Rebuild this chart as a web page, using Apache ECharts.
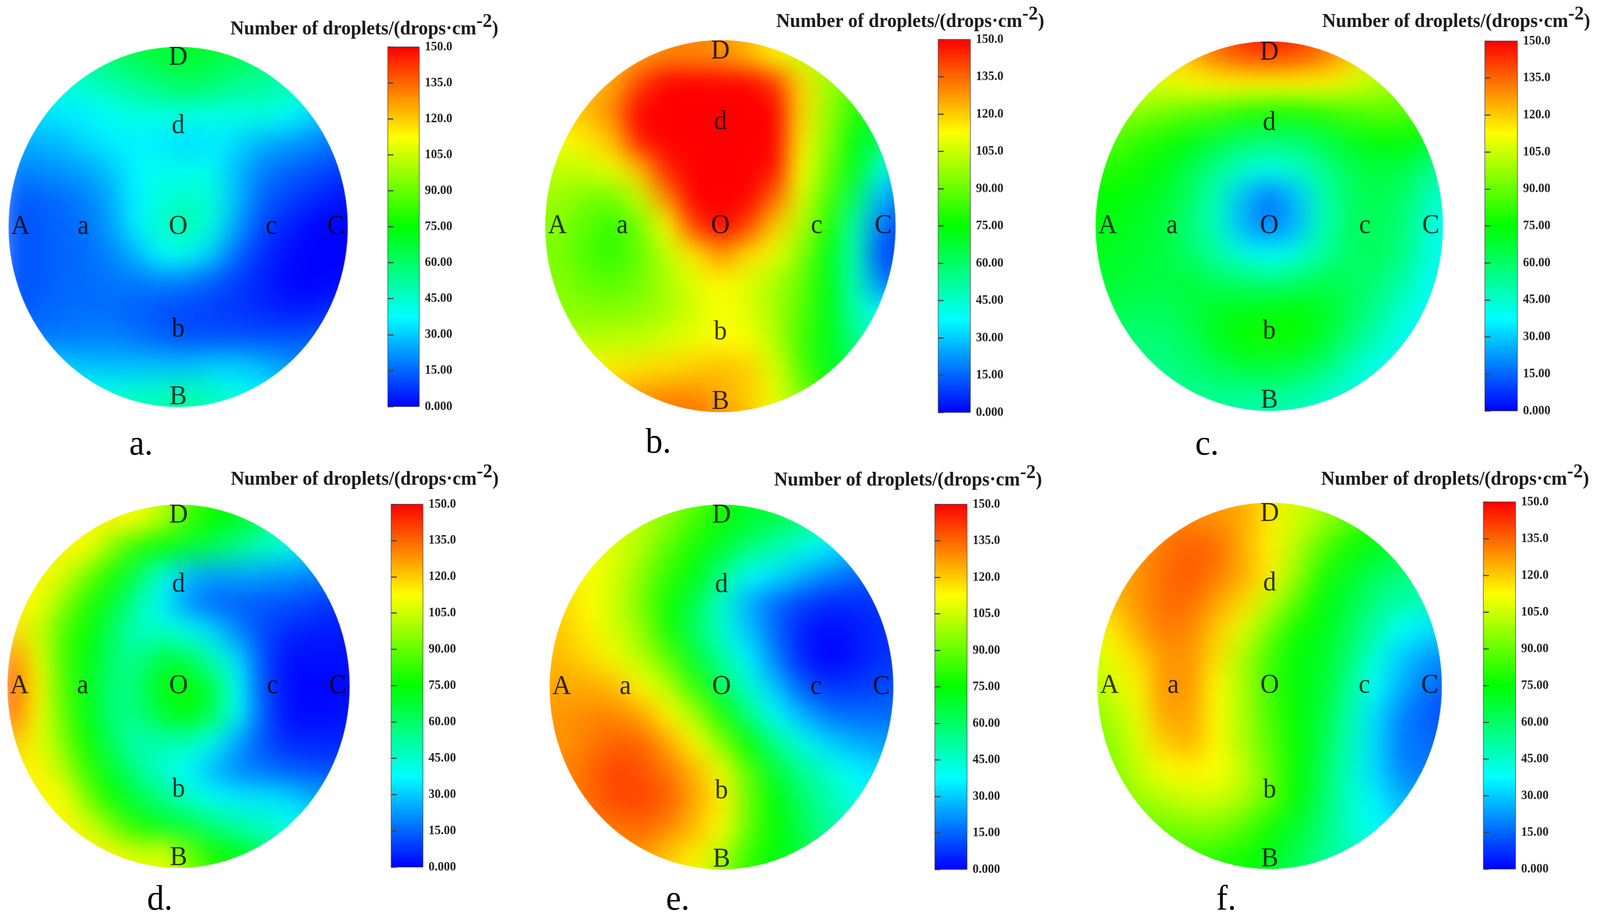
<!DOCTYPE html>
<html>
<head>
<meta charset="utf-8">
<style>
  html, body { margin: 0; padding: 0; background: #fff; overflow: hidden; }
  #stage { position: absolute; left: 0; top: 0; width: 4320px; height: 2335px; transform-origin: 0 0; }
  #field, #overlay { position: absolute; left: 0; top: 0; width: 4320px; height: 2335px; }
</style>
<script src="https://cdn.jsdelivr.net/npm/echarts@6/dist/echarts.min.js"></script>
</head>
<body>
<div id="stage">
  <div id="field"></div>
  <div id="overlay"></div>
</div>
<script>
const fieldA = [
  [50,50,52,58,62,66,68,70,68,64,58,52,46,42,38],
  [44,44,46,52,58,62,66,68,66,62,58,50,44,40,36],
  [40,40,42,44,48,52,56,60,56,52,52,48,43,38,30],
  [32,33,34,36,39,41,41,40,40,41,41,38,32,24,20],
  [25,26,28,32,35,36,35,32,35,32,26,23,20,17,15],
  [19,20,22,24,29,37,40,40,40,28,19,15,12,9,8],
  [13,14,16,19,26,36,43,46,43,28,15,10,6,3,2],
  [12,13,15,17,24,36,46,50,42,24,11,5,1,0,0],
  [12,13,15,16,20,27,38,40,30,16,7,2,0,0,0],
  [12,13,15,16,17,18,19,18,14,9,5,1,0,1,1],
  [13,14,16,16,16,14,12,10,9,8,6,4,4,6,6],
  [18,18,18,19,19,17,14,12,12,12,12,12,13,15,16],
  [30,30,30,28,28,28,28,28,30,30,27,23,20,20,20],
  [44,44,44,40,42,44,46,48,45,40,36,30,26,26,26],
  [50,50,50,48,50,52,54,55,52,48,42,36,30,30,30]
];
const fieldB = [
  [125,125,125,125,128,130,132,130,125,118,110,100,92,85,80],
  [122,122,123,124,126,130,130,128,122,113,105,98,90,85,80],
  [120,120,122,125,140,150,150,150,150,142,118,100,88,82,75],
  [118,120,122,130,150,150,150,150,150,150,118,98,82,70,60],
  [112,112,115,122,146,150,150,150,150,150,115,96,72,62,50],
  [103,103,105,110,122,145,150,150,150,148,112,92,72,42,30],
  [98,98,93,92,105,130,150,150,150,135,108,86,60,28,15],
  [95,95,88,82,92,112,140,150,140,120,102,80,50,18,8],
  [93,93,86,82,90,103,115,128,118,110,95,72,48,12,8],
  [95,95,90,88,92,100,108,113,108,100,90,72,48,20,14],
  [96,96,95,95,96,100,106,112,108,100,88,72,50,38,30],
  [102,102,102,103,104,107,110,112,112,102,85,72,55,45,40],
  [112,112,112,115,117,118,120,122,120,108,88,72,62,55,50],
  [125,125,125,125,128,130,130,125,120,110,95,80,70,62,55],
  [130,130,130,130,132,135,135,130,122,112,100,85,75,65,60]
];
const fieldC = [
  [120,120,120,120,126,136,145,150,145,136,126,112,105,100,95],
  [115,115,115,118,122,132,138,140,138,132,122,110,102,98,95],
  [108,108,106,108,111,113,113,113,113,113,108,102,96,92,88],
  [96,96,96,92,88,85,80,78,78,80,85,88,88,85,82],
  [88,88,82,78,72,66,60,58,58,64,70,74,74,70,66],
  [80,80,77,72,64,54,45,40,45,54,62,66,64,55,48],
  [75,75,72,68,60,48,28,17,28,48,60,64,60,48,42],
  [72,72,70,66,58,46,27,18,27,48,60,62,58,44,38],
  [70,70,68,66,60,52,42,38,42,52,60,62,56,42,36],
  [68,68,66,65,66,62,60,58,60,64,62,58,50,40,36],
  [64,64,62,62,65,70,72,73,74,70,62,54,44,38,34],
  [58,58,58,58,62,70,76,78,76,68,58,48,40,36,34],
  [56,56,56,55,58,62,66,66,64,58,48,40,38,36,34],
  [54,54,54,54,54,54,52,52,50,46,42,40,38,36,34],
  [54,54,54,54,54,52,50,50,48,44,40,38,36,34,34]
];
const fieldD = [
  [114,114,114,114,114,114,104,90,78,72,62,54,46,40,36],
  [114,114,114,114,114,112,100,85,75,70,60,50,44,38,32],
  [114,114,114,112,95,80,74,68,62,54,47,42,34,28,24],
  [114,114,108,92,78,62,42,28,24,25,24,22,20,16,14],
  [114,112,96,80,68,50,36,22,15,14,13,12,10,8,7],
  [118,105,88,76,60,46,45,40,32,20,11,6,4,4,3],
  [130,110,86,73,58,54,66,62,47,33,12,2,2,2,2],
  [136,114,88,72,56,58,72,76,64,38,12,2,0,1,1],
  [134,112,90,72,56,56,68,74,62,38,14,2,1,2,2],
  [122,110,95,76,60,48,50,48,40,24,12,6,5,5,5],
  [114,114,102,82,68,54,44,38,27,20,17,14,12,12,12],
  [114,114,112,92,76,64,55,46,38,35,34,32,26,24,24],
  [114,114,114,108,92,78,70,66,58,50,46,40,36,34,34],
  [114,114,114,114,114,105,108,92,78,72,60,50,44,40,38],
  [114,114,114,114,114,112,108,98,84,74,64,54,46,42,40]
];
const fieldE = [
  [100,100,102,102,102,100,92,80,70,66,60,52,44,38,34],
  [106,106,106,106,102,95,85,76,68,65,58,48,40,36,32],
  [112,112,112,108,100,88,78,68,58,50,42,36,30,26,22],
  [116,116,112,106,95,82,72,55,38,34,27,20,16,12,10],
  [120,118,112,105,92,77,63,45,26,16,10,6,6,8,8],
  [122,120,114,106,96,78,60,44,30,16,5,1,3,6,7],
  [124,122,118,110,102,88,68,52,36,20,6,0,3,7,8],
  [126,125,125,122,112,102,82,62,44,30,14,8,8,10,12],
  [128,128,130,130,125,113,100,78,56,38,28,18,16,16,16],
  [128,128,132,136,135,125,112,95,75,55,41,32,26,24,22],
  [130,130,135,140,138,132,123,110,88,68,54,45,37,32,30],
  [130,130,134,140,140,136,125,115,92,74,60,50,42,38,36],
  [130,130,132,133,135,130,122,112,90,76,64,52,46,42,40],
  [128,128,128,128,128,120,115,102,84,74,66,56,50,46,44],
  [125,125,125,125,122,118,110,96,80,72,66,58,52,48,46]
];
const fieldF = [
  [128,128,128,128,130,128,124,116,106,98,88,80,72,68,64],
  [128,128,130,130,130,128,125,115,106,100,90,82,74,68,62],
  [124,124,128,132,136,134,124,114,102,88,78,72,66,62,58],
  [122,124,128,134,137,132,125,115,98,80,70,62,58,54,50],
  [116,122,128,134,134,126,118,104,88,74,66,56,50,48,46],
  [108,115,125,132,130,120,108,92,78,72,62,50,38,34,30],
  [104,110,118,128,128,117,100,85,74,70,58,42,30,23,20],
  [100,106,114,128,128,112,100,84,74,68,54,38,26,17,14],
  [96,100,110,126,126,112,100,86,75,66,50,33,20,14,10],
  [92,96,108,120,124,113,100,88,76,64,48,32,18,16,12],
  [92,94,104,112,114,112,104,90,76,62,46,32,20,18,16],
  [90,92,98,102,106,106,100,90,75,60,46,36,26,24,22],
  [86,88,90,92,94,94,88,78,68,58,46,38,32,30,28],
  [82,82,84,84,84,82,78,72,64,55,48,42,38,36,34],
  [80,80,80,80,80,78,74,68,60,52,46,42,38,36,34]
];
const fields = [fieldA, fieldB, fieldC, fieldD, fieldE, fieldF];

const captions = ['a.', 'b.', 'c.', 'd.', 'e.', 'f.'];
const pointNames = ['A', 'a', 'O', 'c', 'C', 'D', 'd', 'b', 'B'];
const pointX = [-0.93, -0.56, 0, 0.55, 0.93, 0, 0, 0, 0];
const pointY = [0, 0, 0, 0, 0, 0.94, 0.56, -0.57, -0.945];
const tickLabels = ['0.000', '15.00', '30.00', '45.00', '60.00', '75.00', '90.00', '105.0', '120.0', '135.0', '150.0'];
const rainbow = ['#0000ff', '#00ffff', '#00ff00', '#ffff00', '#ff0000'];

const SERIF = '"Liberation Serif", serif';
const FIELD_MARGIN = 1.15;  // the value grid runs a little past the disc so the blur has colour at the rim

// page layout of every panel, in pixels of the 4320 wide picture
const layout = [
  { cx: 481, cy: 581, rx: 458, ry: 461, bar: [1047, 120, 85, 921], title: [622, 68], cap: [349, 1146] },
  { cx: 1945, cy: 579, rx: 473, ry: 476, bar: [2533, 101, 87, 955], title: [2096, 49], cap: [1743, 1141] },
  { cx: 3427, cy: 579, rx: 469, ry: 473, bar: [4009, 105, 88, 947], title: [3570, 49], cap: [3227, 1146] },
  { cx: 482, cy: 1757, rx: 462, ry: 465, bar: [1056, 1291, 86, 929], title: [623, 1221], cap: [397, 2311] },
  { cx: 1948, cy: 1759, rx: 464, ry: 467, bar: [2524, 1291, 87, 935], title: [2090, 1223], cap: [1798, 2311] },
  { cx: 3428, cy: 1756, rx: 465, ry: 469, bar: [4005, 1285, 87, 940], title: [3567, 1221], cap: [3284, 2311] }
];

// 브라우저 창이 4320보다 좁게 열리므로 그림 전체를 창 너비에 맞춘다
document.getElementById('stage').style.transform = `scaleX(${window.innerWidth / 4320})`;

// 색 면: 값 격자를 그린 뒤 CSS로 흐리게 하고 원 모양으로 자른다
function renderFields() {
  const el = document.getElementById('field');
  el.style.filter = 'blur(32px)';
  el.style.clipPath = "path('" + layout.map(p =>
    `M${p.cx - p.rx} ${p.cy} a${p.rx} ${p.ry} 0 1 0 ${2 * p.rx} 0 a${p.rx} ${p.ry} 0 1 0 ${-2 * p.rx} 0 Z`
  ).join(' ') + "')";

  const chart = echarts.init(el, null, { renderer: 'canvas', devicePixelRatio: 1 });
  const index = fieldA[0].map((_, i) => String(i));
  chart.setOption({
    animation: false,
    grid: layout.map(p => ({
      left: p.cx - p.rx * FIELD_MARGIN,
      top: p.cy - p.ry * FIELD_MARGIN,
      width: 2 * p.rx * FIELD_MARGIN,
      height: 2 * p.ry * FIELD_MARGIN
    })),
    xAxis: layout.map((_, i) => ({ type: 'category', data: index, gridIndex: i, show: false })),
    yAxis: layout.map((_, i) => ({ type: 'category', data: index, gridIndex: i, show: false, inverse: true })),
    visualMap: { show: false, min: 0, max: 150, dimension: 2, inRange: { color: rainbow } },
    series: fields.map((rows, i) => ({
      type: 'heatmap',
      xAxisIndex: i,
      yAxisIndex: i,
      progressive: 0,
      data: rows.flatMap((row, r) => row.map((v, c) => [c, r, v]))
    }))
  });
}

// 글자, 색상 막대, 눈금
function renderOverlay() {
  const chart = echarts.init(document.getElementById('overlay'), null, { renderer: 'canvas', devicePixelRatio: 1 });
  const n = layout.length;

  const titles = [];
  layout.forEach((p, i) => {
    titles.push({
      left: p.title[0],
      top: p.title[1] - 38,
      padding: 0,
      text: '{n|Number of droplets/(drops·cm}{s|-2}{n|)}',
      textStyle: {
        rich: {
          n: { fontFamily: SERIF, fontWeight: 'bold', fontSize: 51, lineHeight: 70, verticalAlign: 'bottom', color: '#1a1a1a' },
          s: { fontFamily: SERIF, fontWeight: 'bold', fontSize: 51, lineHeight: 70, verticalAlign: 'top', color: '#1a1a1a' }
        }
      }
    });
    titles.push({
      left: p.cap[0],
      top: p.cap[1] - 52,
      padding: 0,
      text: captions[i],
      textStyle: { fontFamily: SERIF, fontWeight: 'normal', fontSize: 92, color: '#000' }
    });
  });

  const discGrids = layout.map(p => ({ left: p.cx - p.rx, top: p.cy - p.ry, width: 2 * p.rx, height: 2 * p.ry }));
  const barGrids = layout.map(p => ({
    left: p.bar[0], top: p.bar[1], width: p.bar[2], height: p.bar[3],
    show: true, borderColor: 'rgba(60,60,60,0.7)', borderWidth: 2, backgroundColor: 'transparent', z: 10
  }));

  const xAxes = [], yAxes = [];
  for (let i = 0; i < n; i++) {
    xAxes.push({ type: 'value', gridIndex: i, min: -1, max: 1, show: false });
    yAxes.push({ type: 'value', gridIndex: i, min: -1, max: 1, show: false });
  }
  for (let i = 0; i < n; i++) {
    xAxes.push({ type: 'value', gridIndex: n + i, min: 0, max: 1, show: false });
    yAxes.push({
      type: 'value',
      gridIndex: n + i,
      position: 'right',
      min: 0,
      max: 150,
      interval: 15,
      z: 10,
      splitLine: { show: false },
      axisLine: { show: false },
      axisTick: { show: true, length: 15, lineStyle: { color: '#444', width: 3 } },
      axisLabel: {
        margin: 15,
        fontFamily: SERIF,
        fontWeight: 'bold',
        fontSize: 33,
        color: '#222',
        formatter: v => tickLabels[Math.round(v / 15)]
      }
    });
  }

  const series = layout.map((_, i) => ({
    type: 'scatter',
    xAxisIndex: i,
    yAxisIndex: i,
    symbolSize: 1,
    itemStyle: { color: 'transparent' },
    label: {
      show: true,
      position: 'inside',
      fontFamily: SERIF,
      fontSize: 70,
      color: '#000',
      formatter: params => params.data[2]
    },
    data: pointNames.map((name, k) => [pointX[k], pointY[k], name])
  }));
  // 색상 막대용 빈 시리즈
  series.push({ type: 'scatter', xAxisIndex: n, yAxisIndex: n, data: [] });

  chart.setOption({
    animation: false,
    title: titles,
    grid: discGrids.concat(barGrids),
    xAxis: xAxes,
    yAxis: yAxes,
    visualMap: layout.map(p => ({
      type: 'continuous',
      seriesIndex: n,
      min: 0,
      max: 150,
      left: p.bar[0],
      top: p.bar[1],
      itemWidth: p.bar[2],
      itemHeight: p.bar[3],
      padding: 0,
      calculable: false,
      realtime: false,
      hoverLink: false,
      inRange: { color: rainbow }
    })),
    series: series
  });
}

renderFields();
renderOverlay();
</script>
</body>
</html>
